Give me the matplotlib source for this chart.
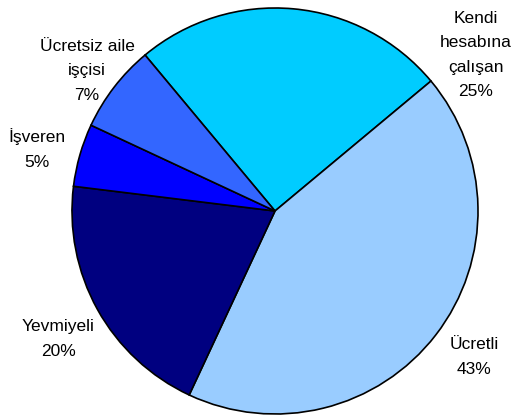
import matplotlib
matplotlib.use("Agg")
import matplotlib.pyplot as plt

labels = ["Kendi\nhesabına\nçalışan", "Ücretli", "Yevmiyeli", "İşveren", "Ücretsiz aile\nişçisi"]
values = [25, 43, 20, 5, 7]
colors = ["#00CCFF", "#99CCFF", "#000080", "#0000FF", "#3366FF"]

fam = ["Liberation Sans", "DejaVu Sans"]

W, H = 512, 418
cx, cy, R = 275, 211, 203
fig = plt.figure(figsize=(W / 100, H / 100), dpi=100)
ax = fig.add_axes([(cx - R) / W, (H - cy - R) / H, 2 * R / W, 2 * R / H])
ax.pie(values, colors=colors, startangle=129.8, counterclock=False,
       wedgeprops=dict(edgecolor="black", linewidth=1.2))
ax.set_xlim(-1, 1)
ax.set_ylim(-1, 1)
ax.set_aspect("auto")
ax.axis("off")

# label centers in pixel positions
label_pos = [(476, 55), (474, 357), (58, 339), (37, 149), (87, 71)]
for lab, v, (px, py) in zip(labels, values, label_pos):
    ax.text((px - cx) / R, (cy - py) / R, f"{lab}\n{v}%", ha="center", va="center",
            fontsize=12.5, family=fam, linespacing=1.78, clip_on=False)

fig.savefig("out.png", dpi=100)
